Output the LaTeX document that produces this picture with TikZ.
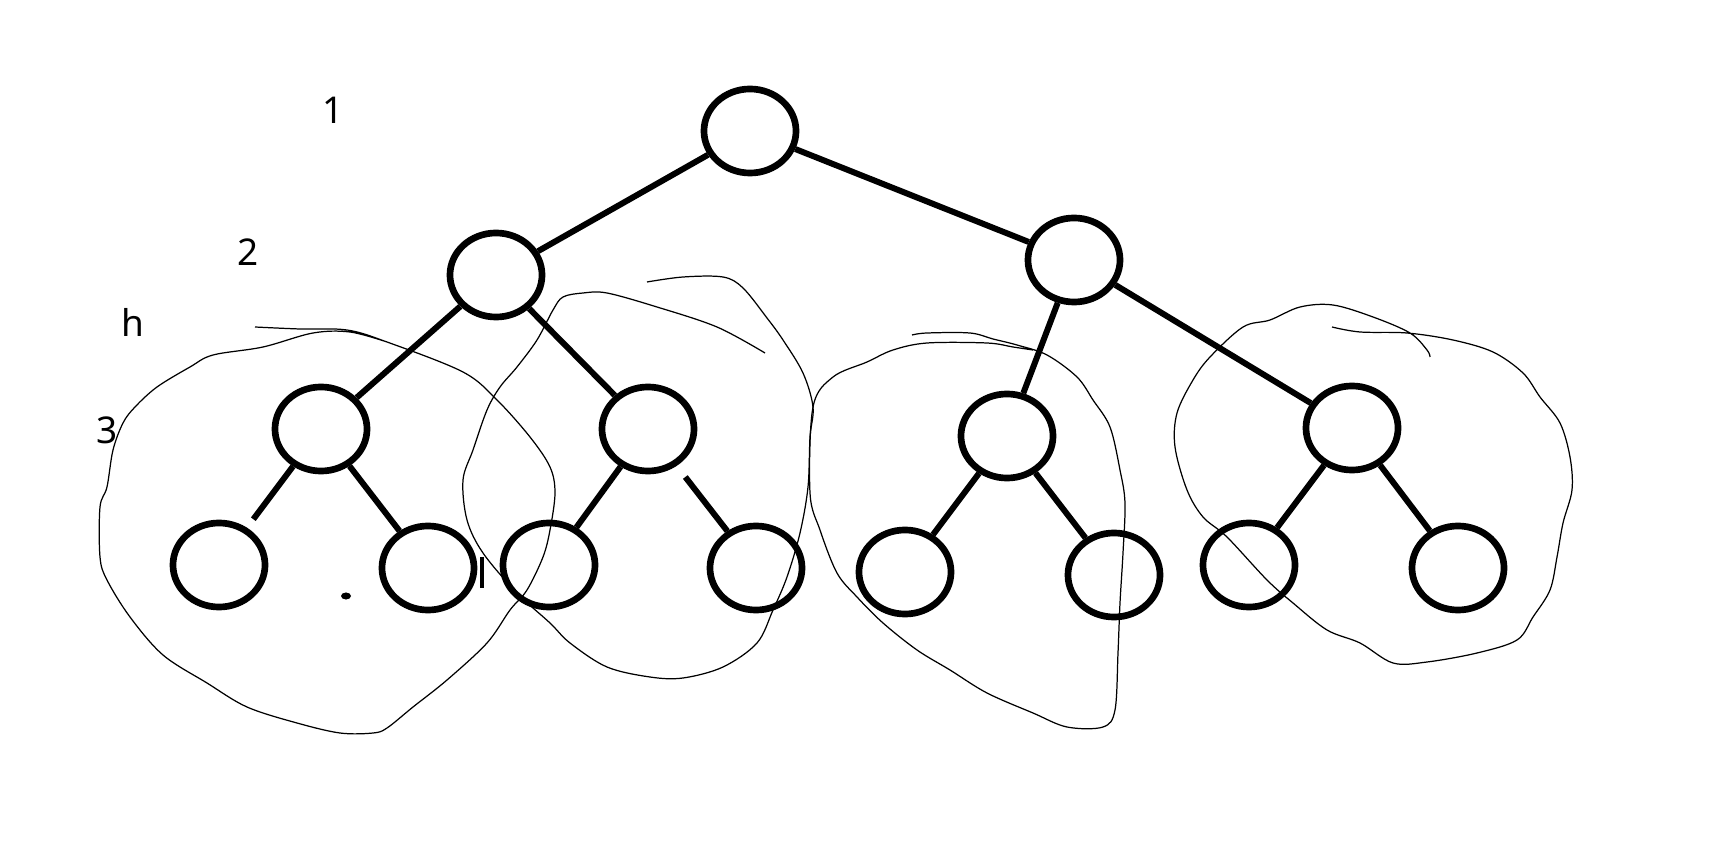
\documentclass[tikz,border=0pt]{standalone}
\usepackage{fontspec}
\setmainfont{Noto Sans}
\usetikzlibrary{shapes.geometric}

\begin{document}
\begin{tikzpicture}[x=0.01cm,y=-0.01cm,
  vertex/.style={ellipse,draw,line width=1.9pt,minimum width=0.92cm,minimum height=0.84cm,inner sep=0pt},
  branch/.style={line width=1.7pt},
  loopline/.style={line width=0.35pt},
  levellabel/.style={font=\fontsize{10.5}{12}\selectfont,inner sep=0pt}]
\useasboundingbox (0,0) rectangle (1736,846);
% level numbers
\node[levellabel] (lvla) at (333,110) {1};
\node[levellabel] (lvlb) at (248,252) {2};
\node[levellabel] (lvlh) at (133,322) {h};
\node[levellabel] (lvlc) at (107,430) {3};
% the tree
\node[vertex] (root) at (750,131) {};
\node[vertex] (l) at (496,275) {};
\node[vertex] (r) at (1074,260) {};
\node[vertex] (ll) at (321,429) {};
\node[vertex] (lr) at (648,429) {};
\node[vertex] (rl) at (1007,436) {};
\node[vertex] (rr) at (1352,428) {};
\node[vertex] (lll) at (219,565) {};
\node[vertex] (llr) at (428,568) {};
\node[vertex] (lrl) at (549,565) {};
\node[vertex] (lrr) at (756,568) {};
\node[vertex] (rll) at (905,572) {};
\node[vertex] (rlr) at (1114,575) {};
\node[vertex] (rrl) at (1249,565) {};
\node[vertex] (rrr) at (1458,568) {};
\draw[branch] (root) -- (l);
\draw[branch] (root) -- (r);
\draw[branch] (l) -- (ll);
\draw[branch] (l) -- (lr);
\draw[branch] (r) -- (rl);
\draw[branch] (r) -- (rr);
\draw[branch,shorten >=3pt] (ll) -- (lll);
\draw[branch] (ll) -- (llr);
\draw[branch] (lr) -- (lrl);
\draw[branch,shorten <=4pt] (lr) -- (lrr);
\draw[branch] (rl) -- (rll);
\draw[branch] (rl) -- (rlr);
\draw[branch] (rr) -- (rrl);
\draw[branch] (rr) -- (rrr);
% stray marks
\fill (346,596) ellipse [x radius=0.05cm, y radius=0.035cm];
\draw[line width=1.1pt] (482,557) -- (482,588);
% hand drawn loops round the subtrees
\draw[loopline] plot[smooth,tension=0.55] coordinates {
  (255,327) (300,329) (347,330) (387,342) (463,372) (497,400) (530,437)
  (550,467) (555,493) (550,530) (543,557) (527,590) (510,610) (487,643)
  (447,680) (413,707) (387,728) (373,733) (340,733) (297,723) (247,707)
  (207,683) (163,655) (130,617) (107,580) (100,557) (100,507) (107,487)
  (113,450) (123,423) (135,407) (157,387) (190,367) (213,355) (263,347)
  (313,333) (350,332) (387,342)};
\draw[loopline] plot[smooth,tension=0.55] coordinates {
  (647,282) (683,277) (723,277) (743,288) (767,318) (783,340) (803,373)
  (813,407) (810,437) (808,487) (800,533) (787,577) (773,610) (757,643)
  (723,667) (683,678) (650,677) (607,667) (570,643) (550,623) (517,593)
  (483,553) (467,520) (463,480) (473,450) (487,410) (500,387) (517,367)
  (537,340) (553,310) (563,297) (583,293) (607,293) (657,307) (717,327)
  (765,353)};
\draw[loopline] plot[smooth,tension=0.55] coordinates {
  (912,335) (927,333) (970,333) (993,339) (1017,345) (1047,355) (1077,377)
  (1093,400) (1110,427) (1120,470) (1125,503) (1123,553) (1120,603)
  (1118,653) (1115,710) (1103,727) (1067,727) (1033,713) (987,693)
  (950,670) (917,650) (883,623) (857,597) (837,573) (820,530) (810,493)
  (813,407) (833,377) (867,362) (893,350) (927,343) (987,343) (1013,347)
  (1033,350)};
\draw[loopline] plot[smooth,tension=0.55] coordinates {
  (1332,327) (1360,332) (1407,333) (1453,340) (1493,352) (1523,373)
  (1540,397) (1560,423) (1570,457) (1572,490) (1563,523) (1557,557)
  (1550,590) (1533,617) (1517,640) (1477,653) (1427,662) (1393,663)
  (1360,643) (1327,630) (1293,603) (1267,580) (1227,537) (1203,517)
  (1187,490) (1175,447) (1177,413) (1193,380) (1210,357) (1243,327)
  (1270,320) (1300,307) (1333,305) (1373,317) (1410,333) (1427,350)
  (1430,357)};
\end{tikzpicture}
\end{document}
